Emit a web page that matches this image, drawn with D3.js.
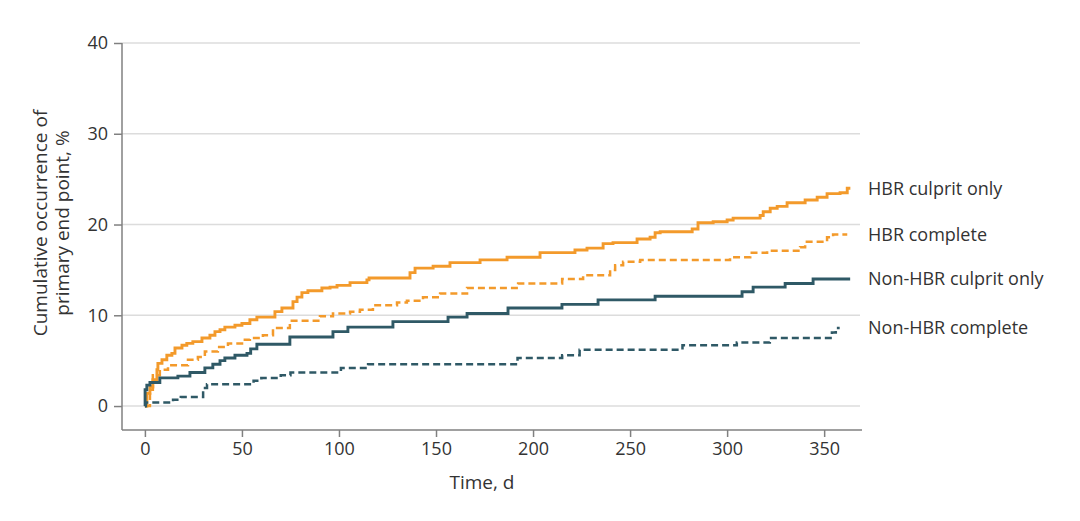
<!DOCTYPE html>
<html>
<head>
<meta charset="utf-8">
<script src="https://cdn.jsdelivr.net/npm/d3@7"></script>
<style>
  html, body { margin: 0; padding: 0; background: #fff; }
  svg { display: block; }
  text { font-family: "Open Sans", "Noto Sans", sans-serif; fill: #333; }
</style>
</head>
<body>
<svg id="chart" width="1080" height="521"></svg>
<script>
// ---- Data ----
const xTicks = [0, 50, 100, 150, 200, 250, 300, 350];
const yTicks = [0, 10, 20, 30, 40];
const seriesNames = ["HBR culprit only", "HBR complete", "Non-HBR culprit only", "Non-HBR complete"];

// [day, cumulative %]
const hbrCulprit = [[0,0],[1.0,1.4],[2.6,2.1],[4.1,2.9],[6.2,4.0],[6.7,4.7],[8.8,5.1],[11.3,5.6],[13.9,5.8],[15.5,6.4],[19.1,6.7],[21.6,6.9],[24.7,7.1],[29.4,7.5],[33.5,7.8],[36.1,8.2],[38.7,8.4],[41.2,8.7],[46.4,8.9],[50.0,9.1],[54.1,9.5],[57.7,9.8],[67.0,10.4],[70.6,10.8],[76.3,11.5],[78.4,12.0],[80.9,12.5],[84.0,12.7],[91.2,13.0],[95.4,13.1],[99.0,13.3],[105.7,13.6],[114.4,13.9],[115.5,14.1],[136.6,14.7],[139.2,15.2],[148.5,15.4],[157.2,15.8],[172.7,16.1],[186.6,16.4],[203.6,16.9],[221.6,17.2],[227.8,17.4],[236.1,17.9],[241.2,18.0],[253.6,18.4],[260.3,18.6],[262.9,19.1],[265.5,19.2],[282.0,19.5],[285.0,20.2],[292.8,20.3],[300.0,20.5],[303.1,20.7],[317.0,21.0],[318.6,21.4],[322.2,21.8],[325.8,22.0],[330.9,22.4],[340.2,22.7],[346.4,23.0],[351.5,23.4],[358.2,23.5],[361.9,24.0],[363.5,24.0]];

const hbrComplete = [[0,0],[2.6,1.8],[4.1,3.4],[7.7,4.0],[11.9,4.5],[22.2,5.1],[27.3,5.4],[30.9,6.0],[37.6,6.5],[42.8,6.9],[51.5,7.3],[54.1,7.5],[60.8,7.8],[66.0,8.6],[74.7,9.4],[90.2,9.9],[96.9,10.2],[105.7,10.4],[110.8,10.6],[117.5,11.1],[129.9,11.4],[135.0,11.6],[143.3,12.0],[152.1,12.4],[166.0,13.0],[192.3,13.5],[215.0,14.0],[225.8,14.4],[239.7,15.0],[242.3,15.5],[246.4,15.9],[255.2,16.1],[301.5,16.4],[311.9,16.9],[320.6,17.1],[337.6,17.5],[340.2,18.1],[351.5,18.6],[354.6,18.9],[361.9,18.9]];

const nonHbrCulprit = [[0,0],[0.1,1.8],[1.0,2.3],[2.6,2.6],[7.7,3.1],[17.0,3.3],[23.2,3.7],[30.9,4.2],[35.0,4.6],[38.7,5.0],[41.2,5.3],[46.4,5.6],[52.6,5.8],[54.5,6.3],[57.7,6.8],[74.7,7.6],[96.9,8.2],[104.6,8.7],[127.8,9.3],[156.2,9.8],[166.0,10.2],[187.1,10.8],[214.9,11.2],[233.5,11.7],[262.9,12.1],[307.7,12.6],[313.4,13.1],[329.9,13.5],[344.3,14.0],[363.4,14.0]];

const nonHbrComplete = [[0,0],[0.5,0.4],[14.5,0.7],[18.5,1.0],[30.0,2.0],[32.0,2.4],[56.0,2.8],[60.0,3.1],[70.0,3.4],[75.0,3.7],[101.0,4.2],[115.0,4.6],[192.0,5.3],[215.0,5.6],[224.0,6.2],[277.0,6.7],[305.0,7.0],[322.0,7.5],[354.0,8.1],[356.0,8.6],[358.0,8.6]];

// ---- Layout ----
const svg = d3.select("#chart");
const orange = "#f39a2b";
const teal = "#2f5966";

const x = d3.scaleLinear().domain([-11.8, 369.5]).range([122, 862]);
const y = d3.scaleLinear().domain([-2.64, 40]).range([430, 43]);

// gridlines
svg.append("g").selectAll("line").data(yTicks).join("line")
  .attr("x1", 122).attr("x2", 860)
  .attr("y1", d => y(d)).attr("y2", d => y(d))
  .attr("stroke", "#dcdcdc").attr("stroke-width", 1.5);

// y axis
const yAxis = svg.append("g").attr("transform", "translate(122,0)")
  .call(d3.axisLeft(y).tickValues(yTicks).tickSize(8).tickPadding(6));
yAxis.select(".domain").attr("d", `M0,${y(40)}V430`).attr("stroke", "#808080").attr("stroke-width", 1.5);
yAxis.selectAll(".tick line").attr("stroke", "#808080").attr("stroke-width", 1.5);
yAxis.selectAll(".tick text").style("font-size", "18px").style("font-family", "Open Sans").attr("fill", "#3a3a3a");

// x axis
const xAxis = svg.append("g").attr("transform", "translate(0,430)")
  .call(d3.axisBottom(x).tickValues(xTicks).tickSize(7).tickPadding(5));
xAxis.select(".domain").attr("d", "M122,0H862").attr("stroke", "#808080").attr("stroke-width", 1.5);
xAxis.selectAll(".tick line").attr("stroke", "#808080").attr("stroke-width", 1.5);
xAxis.selectAll(".tick text").style("font-size", "18px").style("font-family", "Open Sans").attr("fill", "#3a3a3a");

// axis titles
svg.append("text").attr("x", 482).attr("y", 489).attr("text-anchor", "middle")
  .style("font-size", "19px").text("Time, d");
const yt = svg.append("text").attr("transform", "translate(40,223) rotate(-90)")
  .attr("text-anchor", "middle").style("font-size", "19px");
yt.append("tspan").attr("x", 0).attr("dy", "0.35em").text("Cumulative occurrence of");
yt.append("tspan").attr("x", 0).attr("dy", "1.2em").text("primary end point, %");

// lines
const line = d3.line().x(d => x(d[0])).y(d => y(d[1])).curve(d3.curveStepAfter);
const series = [
  {name: seriesNames[0], data: hbrCulprit, color: orange, dash: null, w: 2.9},
  {name: seriesNames[1], data: hbrComplete, color: orange, dash: "7,4", w: 2.5},
  {name: seriesNames[2], data: nonHbrCulprit, color: teal, dash: null, w: 2.9},
  {name: seriesNames[3], data: nonHbrComplete, color: teal, dash: "7,4", w: 2.5}
];
svg.append("g").selectAll("path").data(series).join("path")
  .attr("d", d => line(d.data))
  .attr("fill", "none")
  .attr("stroke", d => d.color)
  .attr("stroke-width", d => d.w)
  .attr("stroke-dasharray", d => d.dash);

// end labels
svg.append("g").selectAll("text").data(series).join("text")
  .attr("x", 868)
  .attr("y", d => y(d.data[d.data.length - 1][1]))
  .attr("dy", "0.35em")
  .style("font-size", "18px")
  .text(d => d.name);
</script>
</body>
</html>
